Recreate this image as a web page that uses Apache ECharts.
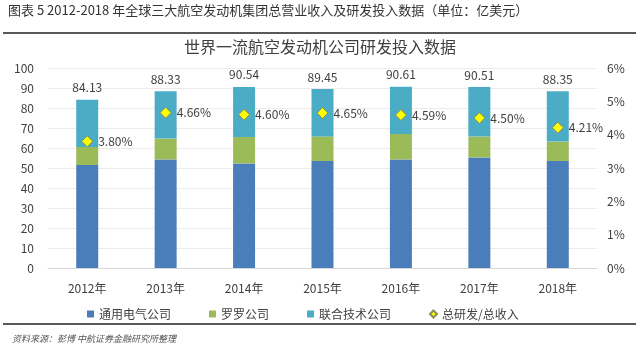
<!DOCTYPE html>
<html>
<head>
<meta charset="utf-8">
<script src="https://cdn.jsdelivr.net/npm/echarts@6/dist/echarts.min.js"></script>
<style>
  html, body { margin: 0; padding: 0; background: #fff; }
  #main { width: 640px; height: 352px; }
</style>
</head>
<body>
<div id="main"></div>
<script>
var years = ['2012年', '2013年', '2014年', '2015年', '2016年', '2017年', '2018年'];
var geRev = [51.5, 54.3, 52.3, 53.5, 54.3, 55.3, 53.5];
var rrRev = [9.0, 10.4, 13.2, 12.3, 12.7, 10.4, 9.7];
var utcRev = [23.63, 23.63, 25.04, 23.65, 23.61, 24.81, 25.15];
var totals = ['84.13', '88.33', '90.54', '89.45', '90.61', '90.51', '88.35'];
var rdRatio = [3.80, 4.66, 4.60, 4.65, 4.59, 4.50, 4.21];

var font = '"Noto Sans CJK SC", "Microsoft YaHei", sans-serif';
var myChart = echarts.init(document.getElementById('main'));

var option = {
    backgroundColor: '#fff',
    textStyle: { fontFamily: font },
    title: {
        text: '世界一流航空发动机公司研发投入数据',
        left: 'center',
        top: 34,
        textStyle: { fontSize: 16, fontWeight: 'normal', color: '#404040', fontFamily: font }
    },
    legend: {
        left: 82,
        top: 303,
        itemWidth: 7,
        itemHeight: 7,
        itemGap: 38,
        textStyle: { fontSize: 12, color: '#404040', fontFamily: font },
        data: [
            { name: '通用电气公司', icon: 'rect' },
            { name: '罗罗公司', icon: 'rect' },
            { name: '联合技术公司', icon: 'rect' },
            { name: '总研发/总收入', icon: 'diamond' }
        ]
    },
    grid: { left: 48, right: 43, top: 68, bottom: 84 },
    xAxis: {
        type: 'category',
        data: years,
        axisLine: { lineStyle: { color: '#d9d9d9' } },
        axisTick: { show: false },
        axisLabel: { fontSize: 12, color: '#404040', margin: 14 }
    },
    yAxis: [{
        type: 'value',
        min: 0, max: 100, interval: 10,
        axisLine: { show: false },
        axisTick: { show: false },
        axisLabel: { fontSize: 12, color: '#404040', margin: 14 },
        splitLine: { lineStyle: { color: '#ebebeb' } }
    }, {
        type: 'value',
        min: 0, max: 6, interval: 1,
        position: 'right',
        axisLine: { show: false },
        axisTick: { show: false },
        axisLabel: { fontSize: 12, color: '#404040', margin: 10, formatter: '{value}%' },
        splitLine: { show: false }
    }],
    series: [{
        name: '通用电气公司',
        type: 'bar',
        stack: 'rev',
        barWidth: 22,
        itemStyle: { color: '#4a7ebb' },
        data: geRev
    }, {
        name: '罗罗公司',
        type: 'bar',
        stack: 'rev',
        itemStyle: { color: '#9bbb59' },
        data: rrRev
    }, {
        name: '联合技术公司',
        type: 'bar',
        stack: 'rev',
        itemStyle: { color: '#4bacc6' },
        label: {
            show: true,
            position: 'top',
            distance: 6,
            fontSize: 12,
            color: '#404040',
            formatter: function (p) { return totals[p.dataIndex]; }
        },
        data: utcRev
    }, {
        name: '总研发/总收入',
        type: 'line',
        yAxisIndex: 1,
        symbol: 'diamond',
        symbolSize: 11,
        lineStyle: { width: 0, opacity: 0 },
        itemStyle: { color: '#ffff00', borderColor: '#8c8c5a', borderWidth: 1 },
        label: {
            show: true,
            position: 'right',
            distance: 5,
            fontSize: 12,
            color: '#404040',
            formatter: function (p) { return p.value.toFixed(2) + '%'; }
        },
        z: 5,
        data: rdRatio
    }],
    graphic: [{
        type: 'text',
        left: 8,
        top: 4,
        style: {
            text: '图表 5 2012-2018 年全球三大航空发动机集团总营业收入及研发投入数据（单位：亿美元）',
            fontSize: 13,
            fontFamily: font,
            fill: '#333'
        }
    }, {
        type: 'line',
        shape: { x1: 3, y1: 33, x2: 636, y2: 33 },
        style: { stroke: '#222', lineWidth: 1.5 }
    }, {
        type: 'line',
        shape: { x1: 3, y1: 324, x2: 636, y2: 324 },
        style: { stroke: '#222', lineWidth: 1.5 }
    }, {
        type: 'text',
        left: 12,
        top: 334,
        style: {
            text: '资料来源：彭博 中航证券金融研究所整理',
            fontSize: 9,
            fontStyle: 'italic',
            fontFamily: font,
            fill: '#555'
        }
    }]
};

myChart.setOption(option);

window.onresize = function () {
    myChart.resize();
};
</script>
</body>
</html>
